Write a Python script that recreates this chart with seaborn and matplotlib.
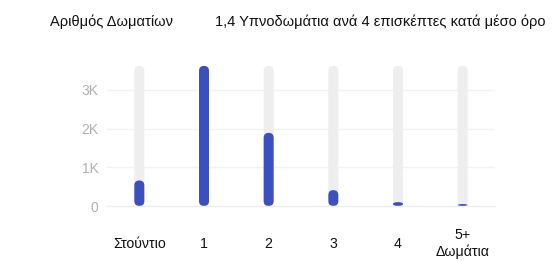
import matplotlib
matplotlib.use("Agg")
import matplotlib.pyplot as plt
import seaborn as sns
import pandas as pd
from matplotlib.patches import FancyBboxPatch

categories = ["Στούντιο", "1", "2", "3", "4", "5+\nΔωμάτια"]
values = [660, 3620, 1890, 410, 100, 50]
track_max = 3620
yticks = [0, 1000, 2000, 3000]
ytick_labels = ["0", "1K", "2K", "3K"]
title_left = "Αριθμός Δωματίων"
title_right = "1,4 Υπνοδωμάτια ανά 4 επισκέπτες κατά μέσο όρο"

sns.set_theme(style="white")
plt.rcParams["font.family"] = ["Liberation Sans", "DejaVu Sans"]

W, H, DPI = 554, 262, 100
fig = plt.figure(figsize=(W / DPI, H / DPI), dpi=DPI)
ax_l, ax_r, ax_b, ax_t = 107, 495, 206, 60
ax = fig.add_axes([ax_l / W, (H - ax_b) / H, (ax_r - ax_l) / W, (ax_b - ax_t) / H])

df = pd.DataFrame({"cat": categories, "val": values, "track": [track_max] * len(categories)})
bw = 10 / 64.7
sns.barplot(data=df, x="cat", y="track", color="#eeeeee", width=bw, ax=ax, saturation=1)
sns.barplot(data=df, x="cat", y="val", color="#3b4fbe", width=bw, ax=ax, saturation=1)

ax.set_xlim(-0.5, len(categories) - 0.5)
ylim_top = (ax_b - ax_t) / 38.7 * 1000
ax.set_ylim(0, ylim_top)
sx = (ax_r - ax_l) / (len(categories))
sy = (ax_b - ax_t) / ylim_top

patches = list(ax.patches)
for p in patches:
    x, y = p.get_x(), p.get_y()
    w, h = p.get_width(), p.get_height()
    fc = p.get_facecolor()
    p.remove()
    if h <= 0:
        continue
    rx = w / 2
    ry_px = min(w * sx / 2, h * sy / 2)
    aspect = (ry_px / sy) / rx
    fb = FancyBboxPatch((x, y), w, h, boxstyle=f"round,pad=0,rounding_size={rx}",
                        mutation_aspect=aspect, facecolor=fc, edgecolor="none", zorder=2)
    ax.add_patch(fb)

ax.set_yticks(yticks)
ax.set_yticklabels(ytick_labels)
ax.grid(axis="y", color="#f2f2f2", linewidth=1, zorder=0)
ax.set_axisbelow(True)
for s in ["top", "right", "left"]:
    ax.spines[s].set_visible(False)
ax.spines["bottom"].set_color("#eeeeee")
ax.spines["bottom"].set_linewidth(1)
ax.tick_params(axis="y", length=0, pad=6, labelsize=10, labelcolor="#b0b0b0")
ax.tick_params(axis="x", length=4, color="#e6e6e6", width=1, pad=23, labelsize=10.2, labelcolor="#111111")
for lab in ax.get_xticklabels():
    lab.set_verticalalignment("center")
    lab.set_linespacing(1.2)
ax.set_xlabel("")
ax.set_ylabel("")

fig.text(50 / W, 1 - 22 / H, title_left, ha="left", va="center", fontsize=10.5, color="#111111")
fig.text(215 / W, 1 - 22 / H, title_right, ha="left", va="center", fontsize=10.5, color="#111111")

fig.savefig("out.png", dpi=DPI, facecolor="white")
